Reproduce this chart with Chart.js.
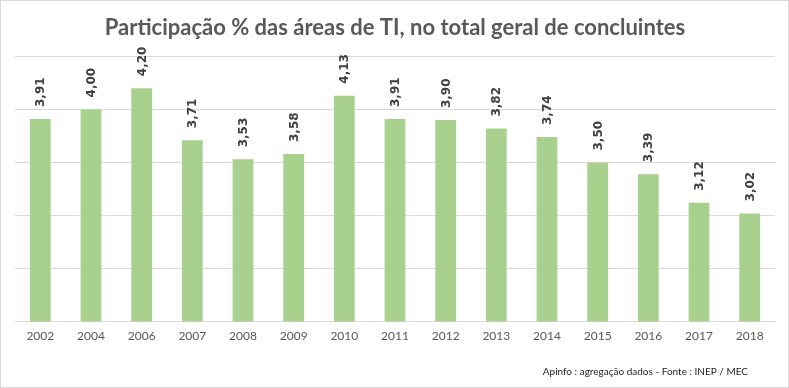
<!DOCTYPE html>
<html>
<head>
<meta charset="utf-8">
<script src="https://cdn.jsdelivr.net/npm/chart.js@4/dist/chart.umd.min.js"></script>
<style>
  html, body { margin: 0; padding: 0; background: #fff; }
  canvas { display: block; }
</style>
</head>
<body>
<canvas id="chart" width="789" height="388"></canvas>
<script>
const YEARS = ['2002', '2004', '2006', '2007', '2008', '2009', '2010', '2011', '2012', '2013', '2014', '2015', '2016', '2017', '2018'];
const SHARE = [3.91, 4.00, 4.20, 3.71, 3.53, 3.58, 4.13, 3.91, 3.90, 3.82, 3.74, 3.50, 3.39, 3.12, 3.02];
const TITLE = 'Participação % das áreas de TI, no total geral de concluintes';
const SOURCE = 'Apinfo : agregação dados - Fonte : INEP / MEC';

const FONT = 'Lato, "Open Sans", sans-serif';
const fmt = (n) => n.toFixed(2).replace('.', ',');

// frame + source note, the way the spreadsheet export shows them
const frame = {
  id: 'frame',
  beforeDraw(chart) {
    const { ctx, width, height } = chart;
    ctx.save();
    ctx.fillStyle = '#fff';
    ctx.fillRect(0, 0, width, height);
    ctx.restore();
  },
  afterDraw(chart) {
    const { ctx, width, height } = chart;
    ctx.save();
    ctx.strokeStyle = '#d9d9d9';
    ctx.lineWidth = 1;
    ctx.strokeRect(0.5, 0.5, width - 1, height - 1);
    ctx.fillStyle = '#262626';
    ctx.font = `10px ${FONT}`;
    ctx.textAlign = 'right';
    ctx.textBaseline = 'middle';
    ctx.fillText(SOURCE, chart.chartArea.right - 27, 372);
    ctx.restore();
  }
};

// value labels, rotated, above each bar
const barLabels = {
  id: 'barLabels',
  afterDatasetsDraw(chart) {
    const { ctx } = chart;
    const meta = chart.getDatasetMeta(0);
    ctx.save();
    ctx.fillStyle = '#404040';
    ctx.font = 'bold 12px "DejaVu Sans", sans-serif';
    ctx.textAlign = 'left';
    ctx.textBaseline = 'middle';
    meta.data.forEach((bar, i) => {
      ctx.save();
      ctx.translate(bar.x + 1, bar.y - 12);
      ctx.rotate(-Math.PI / 2);
      ctx.fillText(fmt(SHARE[i]), 0, 0);
      ctx.restore();
    });
    ctx.restore();
  }
};

new Chart(document.getElementById('chart'), {
  type: 'bar',
  data: {
    labels: YEARS,
    datasets: [{ data: SHARE, backgroundColor: '#a9d18e', barPercentage: 0.41, categoryPercentage: 1 }]
  },
  options: {
    responsive: false,
    animation: false,
    layout: { padding: { left: 15, right: 14, top: 0, bottom: 38 } },
    plugins: {
      legend: { display: false },
      tooltip: { enabled: false },
      title: {
        display: true,
        text: TITLE,
        color: '#595959',
        font: { family: FONT, size: 22, weight: 'bold' },
        padding: { top: 15, bottom: 15 }
      }
    },
    scales: {
      x: {
        grid: { display: false, drawTicks: false },
        border: { display: false },
        ticks: { color: '#595959', font: { family: FONT, size: 12 }, padding: 7, maxRotation: 0 }
      },
      y: {
        min: 2,
        max: 4.5,
        grid: { color: '#d9d9d9', drawTicks: false },
        border: { display: false },
        ticks: { display: false, stepSize: 0.5 }
      }
    }
  },
  plugins: [frame, barLabels]
});
</script>
</body>
</html>
